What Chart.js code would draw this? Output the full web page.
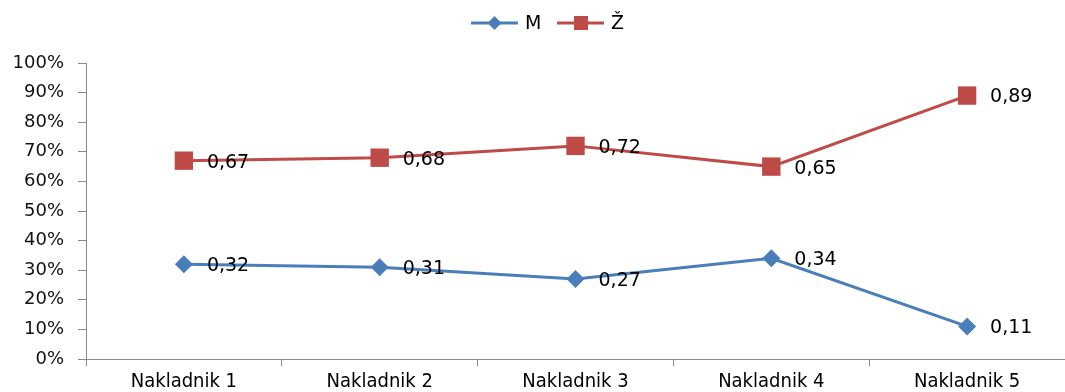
<!DOCTYPE html>
<html lang="hr">
<head>
<meta charset="UTF-8">
<title>Nakladnici</title>
<script src="https://cdn.jsdelivr.net/npm/chart.js"></script>
<style>
  html, body { margin: 0; padding: 0; background: #fff; }
  #wrap { width: 1065px; height: 392px; }
</style>
</head>
<body>
<div id="wrap"><canvas id="myChart" width="1065" height="392"></canvas></div>
<script>
// podaci
var categories = ['Nakladnik 1', 'Nakladnik 2', 'Nakladnik 3', 'Nakladnik 4', 'Nakladnik 5'];
var seriesNames = ['M', 'Ž'];
var valuesM = [0.32, 0.31, 0.27, 0.34, 0.11];
var valuesZ = [0.67, 0.68, 0.72, 0.65, 0.89];
var yTicks = [0, 0.1, 0.2, 0.3, 0.4, 0.5, 0.6, 0.7, 0.8, 0.9, 1];

var blue = '#4A7EBB';
var red = '#BE4B48';
var labelFont = '19px "DejaVu Sans", Verdana, sans-serif';

// oznake vrijednosti desno od točaka
var valueLabels = {
    id: 'valueLabels',
    afterDatasetsDraw: function (chart) {
        var ctx = chart.ctx;
        ctx.save();
        ctx.font = labelFont;
        ctx.fillStyle = '#000';
        ctx.textAlign = 'left';
        ctx.textBaseline = 'middle';
        chart.data.datasets.forEach(function (ds, i) {
            chart.getDatasetMeta(i).data.forEach(function (pt, j) {
                var txt = ds.data[j].toFixed(2).replace('.', ',');
                ctx.fillText(txt, pt.x + 23, pt.y + 2);
            });
        });
        ctx.restore();
    }
};

// legenda kao u Excelu: crta s markerom
var lineLegend = {
    id: 'lineLegend',
    afterDraw: function (chart) {
        var ctx = chart.ctx;
        var items = [{x: 471}, {x: 557}];
        ctx.save();
        ctx.font = labelFont;
        ctx.textBaseline = 'middle';
        chart.data.datasets.forEach(function (ds, i) {
            var x = items[i].x, y = 23;
            ctx.strokeStyle = ds.borderColor;
            ctx.lineWidth = 3;
            ctx.beginPath();
            ctx.moveTo(x, y);
            ctx.lineTo(x + 47, y);
            ctx.stroke();
            ctx.fillStyle = ds.borderColor;
            if (ds.pointStyle === 'rect') {
                ctx.fillRect(x + 17, y - 7, 14, 14);
            } else {
                ctx.beginPath();
                ctx.moveTo(x + 23.5, y - 7);
                ctx.lineTo(x + 30.5, y);
                ctx.lineTo(x + 23.5, y + 7);
                ctx.lineTo(x + 16.5, y);
                ctx.closePath();
                ctx.fill();
            }
            ctx.fillStyle = '#000';
            ctx.fillText(ds.label, x + 54, y + 1);
        });
        ctx.restore();
    }
};

var ctx = document.getElementById('myChart').getContext('2d');
var myChart = new Chart(ctx, {
    type: 'line',
    data: {
        labels: categories,
        datasets: [{
            label: seriesNames[0],
            data: valuesM,
            borderColor: blue,
            backgroundColor: blue,
            borderWidth: 3,
            pointStyle: 'rectRot',
            pointRadius: 9,
            pointHoverRadius: 9,
            pointBorderWidth: 0,
            fill: false,
            tension: 0
        }, {
            label: seriesNames[1],
            data: valuesZ,
            borderColor: red,
            backgroundColor: red,
            borderWidth: 3,
            pointStyle: 'rect',
            pointRadius: 13,
            pointHoverRadius: 13,
            pointBorderWidth: 0,
            fill: false,
            tension: 0
        }]
    },
    options: {
        responsive: false,
        animation: false,
        layout: { autoPadding: false, padding: { top: 63, right: 0, left: 0, bottom: 0 } },
        plugins: {
            legend: { display: false },
            tooltip: { enabled: false }
        },
        scales: {
            x: {
                offset: true,
                grid: {
                    offset: true,
                    drawOnChartArea: false,
                    color: '#898989',
                    tickLength: 7
                },
                border: { color: '#898989', width: 1 },
                ticks: {
                    color: '#000',
                    font: { family: '"DejaVu Sans Condensed", "Liberation Sans Narrow", sans-serif', size: 20 },
                    padding: 4,
                    maxRotation: 0
                },
                afterFit: function (s) { s.height = 33; }
            },
            y: {
                min: 0,
                max: 1,
                afterBuildTicks: function (s) {
                    s.ticks = yTicks.map(function (v) { return {value: v}; });
                },
                grid: {
                    drawOnChartArea: false,
                    color: '#898989',
                    tickLength: 8
                },
                border: { color: '#898989', width: 1 },
                ticks: {
                    color: '#111',
                    font: { family: '"DejaVu Sans", Verdana, sans-serif', size: 18 },
                    padding: 14,
                    callback: function (v) { return Math.round(v * 100) + '%'; }
                },
                afterFit: function (s) { s.width = 86; }
            }
        }
    },
    plugins: [valueLabels, lineLegend]
});
</script>
</body>
</html>
